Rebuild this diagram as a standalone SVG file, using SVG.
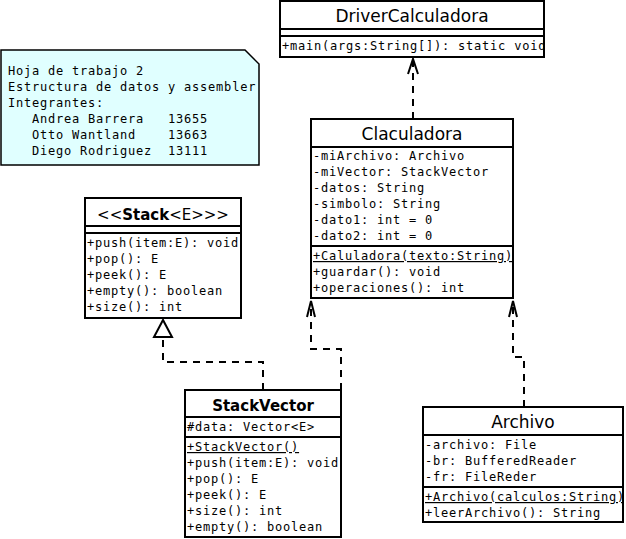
<svg xmlns="http://www.w3.org/2000/svg" width="626" height="539" viewBox="0 0 626 539">
<style>
.box{fill:#fff;stroke:#000;stroke-width:2}
.div{stroke:#000;stroke-width:2}
.t{font-family:"DejaVu Sans",sans-serif;font-size:17px;fill:#000;text-anchor:middle}
.tb{font-family:"DejaVu Sans",sans-serif;font-size:15px;font-weight:bold;fill:#000;text-anchor:middle}
.m{font-family:"DejaVu Sans Mono",monospace;font-size:12px;letter-spacing:0.78px;fill:#000;white-space:pre}
.u{text-decoration:underline}
.dash{fill:none;stroke:#000;stroke-width:2;stroke-dasharray:7,6}
.arr{fill:none;stroke:#000;stroke-width:2}
.tri{fill:#fff;stroke:#000;stroke-width:2}
.note{fill:#e0ffff;stroke:#000;stroke-width:1.5}
</style>
<defs>
<clipPath id="cDriver"><rect x="280" y="1" width="263" height="56"/></clipPath>
<clipPath id="cArch"><rect x="423" y="407" width="199" height="115"/></clipPath>
<clipPath id="cCalc"><rect x="311" y="119" width="201" height="179"/></clipPath>
</defs>

<g id="connectors">
<path class="dash" d="M413 119 V60"/>
<path class="arr" d="M408 74 L413 59 L418 74"/>
<path class="dash" d="M263 390 V362 H163 V337"/>
<path class="tri" d="M163 320 L154 337 L172 337 Z"/>
<path class="dash" d="M341 390 V349 H311 V302"/>
<path class="arr" d="M307 317 L311 301 L315 317"/>
<path class="dash" d="M524 407 V357 H513 V302"/>
<path class="arr" d="M509 317 L513 301 L517 317"/>
</g>

<g id="note">
<path class="note" d="M1 50 H245 L259 64 V165 H1 Z"/>
<text class="m" x="8" y="75">Hoja de trabajo 2</text>
<text class="m" x="8" y="91">Estructura de datos y assembler</text>
<text class="m" x="8" y="107">Integrantes:</text>
<text class="m" x="8" y="123">   Andrea Barrera   13655</text>
<text class="m" x="8" y="139">   Otto Wantland    13663</text>
<text class="m" x="8" y="155">   Diego Rodriguez  13111</text>
</g>

<g id="DriverCalculadora">
<rect class="box" x="280" y="1" width="264" height="56"/>
<line class="div" x1="280" y1="29" x2="544" y2="29"/>
<line class="div" x1="280" y1="36" x2="544" y2="36"/>
<text class="t" x="412" y="22">DriverCalculadora</text>
<g clip-path="url(#cDriver)">
<text class="m" x="282" y="50">+main(args:String[]): static void</text>
</g>
</g>

<g id="Claculadora">
<rect class="box" x="311" y="119" width="202" height="179"/>
<line class="div" x1="311" y1="147" x2="513" y2="147"/>
<line class="div" x1="311" y1="246" x2="513" y2="246"/>
<text class="t" x="412" y="140">Claculadora</text>
<g clip-path="url(#cCalc)">
<text class="m" x="313" y="160">-miArchivo: Archivo</text>
<text class="m" x="313" y="176">-miVector: StackVector</text>
<text class="m" x="313" y="192">-datos: String</text>
<text class="m" x="313" y="208">-simbolo: String</text>
<text class="m" x="313" y="224">-dato1: int = 0</text>
<text class="m" x="313" y="240">-dato2: int = 0</text>
<text class="m u" x="313" y="260">+Caluladora(texto:String)</text>
<text class="m" x="313" y="276">+guardar(): void</text>
<text class="m" x="313" y="292">+operaciones(): int</text>
</g>
</g>

<g id="Stack">
<rect class="box" x="85" y="198" width="156" height="120"/>
<line class="div" x1="85" y1="226" x2="241" y2="226"/>
<line class="div" x1="85" y1="233" x2="241" y2="233"/>
<text class="t" x="163" y="220" style="font-size:15px">&lt;&lt;<tspan font-weight="bold">Stack</tspan>&lt;E&gt;&gt;&gt;</text>
<text class="m" x="87" y="247">+push(item:E): void</text>
<text class="m" x="87" y="263">+pop(): E</text>
<text class="m" x="87" y="279">+peek(): E</text>
<text class="m" x="87" y="295">+empty(): boolean</text>
<text class="m" x="87" y="311">+size(): int</text>
</g>

<g id="StackVector">
<rect class="box" x="185" y="390" width="156" height="147"/>
<line class="div" x1="185" y1="417" x2="341" y2="417"/>
<line class="div" x1="185" y1="437" x2="341" y2="437"/>
<text class="tb" x="263" y="411">StackVector</text>
<text class="m" x="187" y="431">#data: Vector&lt;E&gt;</text>
<text class="m u" x="187" y="451">+StackVector()</text>
<text class="m" x="187" y="467">+push(item:E): void</text>
<text class="m" x="187" y="483">+pop(): E</text>
<text class="m" x="187" y="499">+peek(): E</text>
<text class="m" x="187" y="515">+size(): int</text>
<text class="m" x="187" y="531">+empty(): boolean</text>
</g>

<g id="Archivo">
<rect class="box" x="423" y="407" width="200" height="115"/>
<line class="div" x1="423" y1="435" x2="623" y2="435"/>
<line class="div" x1="423" y1="487" x2="623" y2="487"/>
<text class="t" x="523" y="428">Archivo</text>
<g clip-path="url(#cArch)">
<text class="m" x="425" y="449">-archivo: File</text>
<text class="m" x="425" y="465">-br: BufferedReader</text>
<text class="m" x="425" y="481">-fr: FileReder</text>
<text class="m u" x="425" y="501">+Archivo(calculos:String)</text>
<text class="m" x="425" y="517">+leerArchivo(): String</text>
</g>
</g>
</svg>
